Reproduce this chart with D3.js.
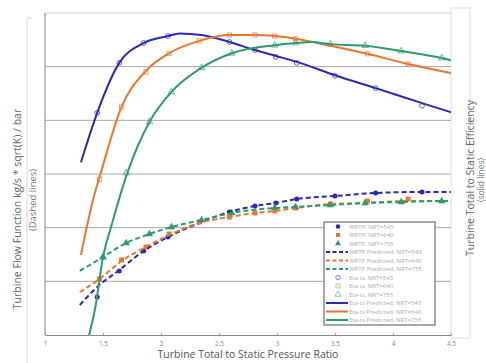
<!DOCTYPE html>
<html>
<head>
<meta charset="utf-8">
<script src="https://cdn.jsdelivr.net/npm/d3@7"></script>
<style>
body { margin: 0; background: #fff; }
text { font-family: "Open Sans", sans-serif; }
</style>
</head>
<body>
<div id="chart-area"></div>
<script>
// pressure ratio values for each series
var prPred543 = [1.31, 1.45, 1.64, 1.85, 2.06, 2.16, 2.35, 2.59, 2.81, 2.99, 3.17, 3.5, 3.85, 4.25, 4.5];
var etaPred543 = [0.522, 0.614, 0.707, 0.744, 0.757, 0.762, 0.759, 0.746, 0.731, 0.720, 0.709, 0.684, 0.660, 0.632, 0.615];
var prPred640 = [1.31, 1.43, 1.47, 1.66, 1.87, 2.07, 2.33, 2.59, 2.81, 2.98, 3.16, 3.46, 3.78, 4.13, 4.5];
var etaPred640 = [0.349, 0.465, 0.494, 0.625, 0.692, 0.725, 0.748, 0.759, 0.759, 0.757, 0.752, 0.739, 0.724, 0.705, 0.688];
var prPred755 = [1.38, 1.43, 1.50, 1.58, 1.71, 1.90, 2.09, 2.35, 2.61, 2.98, 3.16, 3.30, 3.46, 3.76, 4.07, 4.42, 4.5];
var etaPred755 = [0.200, 0.247, 0.345, 0.409, 0.502, 0.597, 0.653, 0.698, 0.725, 0.740, 0.744, 0.746, 0.742, 0.739, 0.729, 0.716, 0.712];

var prFlowPred543 = [1.30, 1.45, 1.64, 1.85, 2.06, 2.33, 2.59, 2.81, 2.99, 3.17, 3.5, 3.85, 4.25, 4.5];
var flowPred543 = [0.559, 0.894, 1.211, 1.565, 1.826, 2.087, 2.292, 2.404, 2.460, 2.534, 2.590, 2.646, 2.665, 2.665];
var prFlowPred640 = [1.30, 1.47, 1.66, 1.87, 2.07, 2.33, 2.59, 2.81, 2.98, 3.16, 3.46, 3.78, 4.13, 4.5];
var flowPred640 = [0.801, 1.044, 1.379, 1.640, 1.863, 2.087, 2.199, 2.273, 2.311, 2.367, 2.441, 2.460, 2.497, 2.497];
var prFlowPred755 = [1.30, 1.50, 1.70, 1.90, 2.09, 2.35, 2.61, 2.98, 3.16, 3.46, 3.76, 4.07, 4.42, 4.5];
var flowPred755 = [1.193, 1.453, 1.714, 1.882, 2.012, 2.143, 2.273, 2.367, 2.385, 2.422, 2.460, 2.478, 2.497, 2.497];

// measured points
var prMeas543 = [1.45, 1.64, 1.85, 2.06, 2.59, 2.81, 2.99, 3.17, 3.5, 3.85, 4.25];
var flowMeas543 = [0.708, 1.193, 1.565, 1.826, 2.292, 2.404, 2.460, 2.534, 2.590, 2.646, 2.665];
var etaMeas543 = [0.614, 0.707, 0.744, 0.757, 0.746, 0.731, 0.718, 0.707, 0.683, 0.660, 0.627];
var prMeas640 = [1.47, 1.66, 1.87, 2.07, 2.33, 2.59, 2.81, 2.98, 3.16, 3.46, 3.78, 4.13];
var flowMeas640 = [1.044, 1.398, 1.640, 1.882, 2.106, 2.199, 2.273, 2.311, 2.367, 2.441, 2.497, 2.534];
var etaMeas640 = [0.490, 0.625, 0.690, 0.725, 0.748, 0.759, 0.759, 0.757, 0.752, null, 0.724, 0.705];
var prMeas755 = [1.50, 1.70, 1.90, 2.09, 2.35, 2.61, 2.98, 3.16, 3.46, 3.76, 4.07, 4.42];
var flowMeas755 = [1.453, 1.714, 1.882, 2.012, 2.143, 2.273, 2.367, 2.385, 2.422, 2.460, 2.478, 2.497];
var etaMeas755 = [0.345, 0.502, 0.597, 0.653, 0.698, 0.725, 0.740, 0.744, 0.742, 0.739, 0.729, 0.716];

var xTicks = [1, 1.5, 2, 2.5, 3, 3.5, 4, 4.5];
var legendLabels = [
	"WRTP, NRT=543", "WRTP, NRT=640", "WRTP, NRT=755",
	"WRTP Predicted, NRT=543", "WRTP Predicted, NRT=640", "WRTP Predicted, NRT=755",
	"Eta-ts, NRT=543", "Eta-ts, NRT=640", "Eta-ts, NRT=755",
	"Eta-ts Predicted, NRT=543", "Eta-ts Predicted, NRT=640", "Eta-ts Predicted, NRT=755"
];

var blue = "#2a2ab2", orange = "#e8762e", green = "#2e9b6c";
var width = 486, height = 363;
var plot = { left: 45, right: 451, top: 13, bottom: 335 };

var svg = d3.select("#chart-area")
	.append("svg")
	.attr("width", width)
	.attr("height", height);

var xScale = d3.scaleLinear().domain([1, 4.5]).range([plot.left, plot.right]);
var etaScale = d3.scaleLinear().domain([0.2, 0.8]).range([plot.bottom, plot.top]);
var flowScale = d3.scaleLinear().domain([0, 6]).range([plot.bottom, plot.top]);

// side frames
svg.append("path")
	.attr("d", "M32,18H27V363")
	.attr("fill", "none").attr("stroke", "#d8d8d8");
svg.append("rect")
	.attr("x", 451).attr("y", 8).attr("width", 19).attr("height", 330)
	.attr("fill", "#fff").attr("stroke", "#dcdcdc");

// gridlines
var grid = svg.append("g");
grid.selectAll("line")
	.data(d3.range(0.3, 0.81, 0.1))
	.enter().append("line")
	.attr("x1", plot.left).attr("x2", plot.right)
	.attr("y1", d => etaScale(d)).attr("y2", d => etaScale(d))
	.attr("stroke", d => d > 0.75 ? "#cfcfcf" : "#a8a8a8")
	.attr("stroke-width", 1);

var xAxisG = svg.append("g")
	.attr("transform", "translate(0," + plot.bottom + ")")
	.call(d3.axisBottom(xScale).tickValues(xTicks).tickSize(-2).tickPadding(6).tickFormat(d3.format("")));
xAxisG.select(".domain").attr("stroke", "#888");
xAxisG.selectAll(".tick line").attr("stroke", "#aaa");
xAxisG.selectAll(".tick text").attr("fill", "#888").attr("font-size", "6.5px");

svg.append("line")
	.attr("x1", plot.left).attr("x2", plot.left)
	.attr("y1", plot.top).attr("y2", plot.bottom)
	.attr("stroke", "#888");

// titles
svg.append("text")
	.attr("x", 248).attr("y", 358)
	.attr("text-anchor", "middle").attr("fill", "#555").attr("font-size", "10.5px")
	.text("Turbine Total to Static Pressure Ratio");
svg.append("text")
	.attr("transform", "translate(21,209) rotate(-90)")
	.attr("text-anchor", "middle").attr("fill", "#666").attr("font-size", "10.5px")
	.text("Turbine Flow Function kg/s * sqrt(K) / bar");
svg.append("text")
	.attr("transform", "translate(36,200) rotate(-90)")
	.attr("text-anchor", "middle").attr("fill", "#777").attr("font-size", "9.5px")
	.text("(Dashed lines)");
svg.append("text")
	.attr("transform", "translate(474,178) rotate(-90)")
	.attr("text-anchor", "middle").attr("fill", "#666").attr("font-size", "10.5px")
	.text("Turbine Total to Static Efficiency");
svg.append("text")
	.attr("transform", "translate(484,180) rotate(-90)")
	.attr("text-anchor", "middle").attr("fill", "#777").attr("font-size", "8.5px")
	.text("(solid lines)");

svg.append("clipPath").attr("id", "clip")
	.append("rect").attr("x", plot.left).attr("y", plot.top)
	.attr("width", plot.right - plot.left).attr("height", plot.bottom - plot.top);

var plotG = svg.append("g").attr("clip-path", "url(#clip)");

function zip(xs, ys) {
	return xs.map((x, i) => [x, ys[i]]).filter(d => d[1] != null);
}

var series = [
	{ color: blue, pred: zip(prPred543, etaPred543), fpred: zip(prFlowPred543, flowPred543), flow: zip(prMeas543, flowMeas543), eta: zip(prMeas543, etaMeas543), sym: d3.symbolCircle },
	{ color: orange, pred: zip(prPred640, etaPred640), fpred: zip(prFlowPred640, flowPred640), flow: zip(prMeas640, flowMeas640), eta: zip(prMeas640, etaMeas640), sym: d3.symbolSquare },
	{ color: green, pred: zip(prPred755, etaPred755), fpred: zip(prFlowPred755, flowPred755), flow: zip(prMeas755, flowMeas755), eta: zip(prMeas755, etaMeas755), sym: d3.symbolTriangle }
];

var etaLine = d3.line().x(d => xScale(d[0])).y(d => etaScale(d[1])).curve(d3.curveMonotoneX);
var flowLine = d3.line().x(d => xScale(d[0])).y(d => flowScale(d[1])).curve(d3.curveMonotoneX);

series.forEach(s => {
	// measured flow (filled)
	plotG.selectAll(null).data(s.flow).enter().append("path")
		.attr("d", d3.symbol().type(s.sym).size(s.sym === d3.symbolCircle ? 20 : 24))
		.attr("transform", d => "translate(" + xScale(d[0]) + "," + flowScale(d[1]) + ")")
		.attr("fill", s.color);
	// measured eta (open)
	plotG.selectAll(null).data(s.eta).enter().append("path")
		.attr("d", d3.symbol().type(s.sym).size(18))
		.attr("transform", d => "translate(" + xScale(d[0]) + "," + etaScale(d[1]) + ")")
		.attr("fill", "none").attr("stroke", s.color).attr("stroke-width", 0.9).attr("opacity", 0.8);
});

series.forEach(s => {
	plotG.append("path").datum(s.fpred)
		.attr("d", flowLine)
		.attr("fill", "none").attr("stroke", s.color)
		.attr("stroke-width", 2).attr("stroke-dasharray", "5,3");
	plotG.append("path").datum(s.pred)
		.attr("d", etaLine)
		.attr("fill", "none").attr("stroke", s.color)
		.attr("stroke-width", 2);
});

// legend
var legend = svg.append("g").attr("transform", "translate(324,222)");
legend.append("rect")
	.attr("width", 111).attr("height", 103)
	.attr("fill", "#fff").attr("stroke", "#8a8a8a").attr("stroke-width", 1.5);

var rows = legend.selectAll("g.row")
	.data(legendLabels)
	.enter().append("g")
	.attr("class", "row")
	.attr("transform", (d, i) => "translate(0," + (4.5 + i * 8.5) + ")");

rows.each(function (d, i) {
	var g = d3.select(this);
	var s = series[i % 3];
	var kind = Math.floor(i / 3);
	if (kind === 0) {
		g.append("path").attr("d", d3.symbol().type(s.sym).size(16))
			.attr("transform", "translate(14,0)").attr("fill", s.color);
	} else if (kind === 1) {
		g.append("line").attr("x1", 2).attr("x2", 24)
			.attr("stroke", s.color).attr("stroke-width", 2).attr("stroke-dasharray", "4,2.5");
	} else if (kind === 2) {
		g.append("path").attr("d", d3.symbol().type(s.sym).size(16))
			.attr("transform", "translate(14,0)").attr("fill", "none")
			.attr("stroke", s.color).attr("stroke-width", 0.8).attr("opacity", 0.7);
	} else {
		g.append("line").attr("x1", 2).attr("x2", 24)
			.attr("stroke", s.color).attr("stroke-width", 2);
	}
	g.append("text").attr("x", 25).attr("y", 2)
		.attr("fill", "#aaa").attr("font-size", "6px")
		.text(d);
});
</script>
</body>
</html>
